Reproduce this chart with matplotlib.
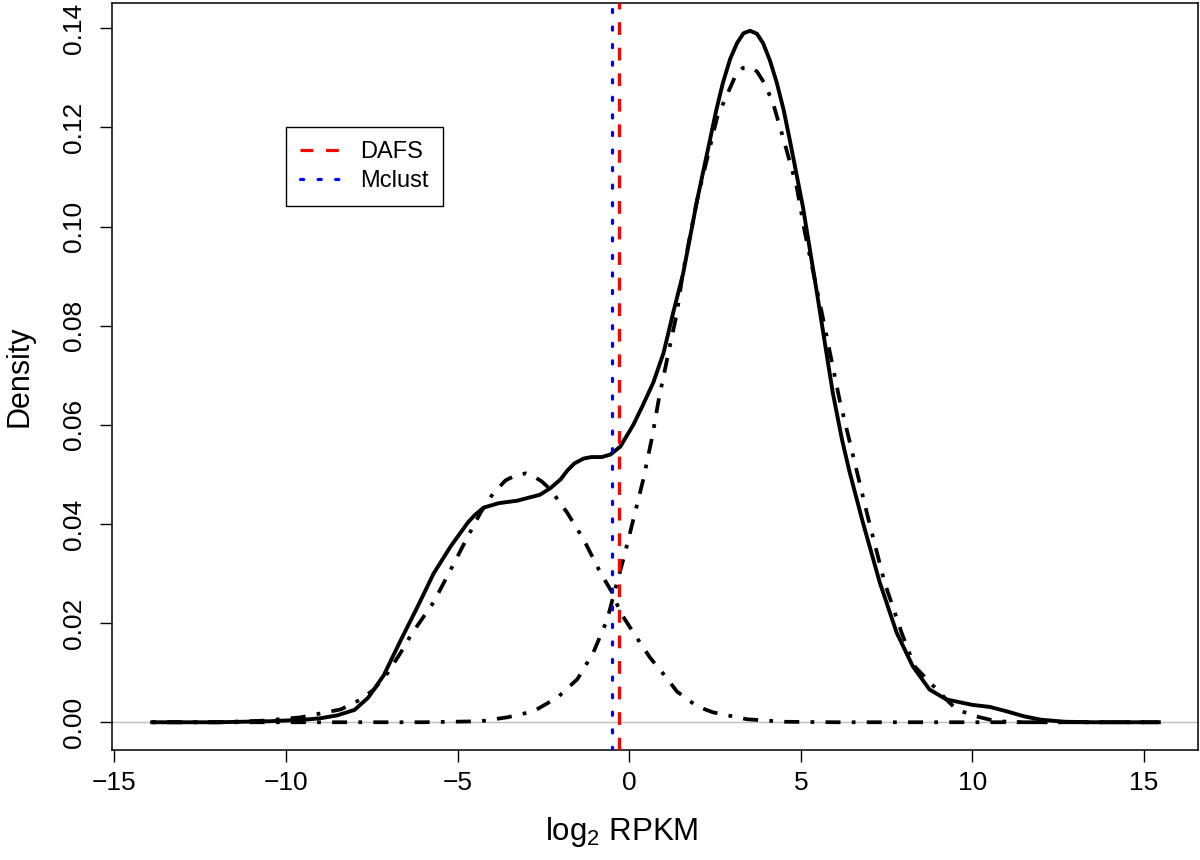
import matplotlib
matplotlib.use("Agg")
import matplotlib.pyplot as plt
from matplotlib.lines import Line2D

plt.rcParams['font.family'] = ['Liberation Sans', 'DejaVu Sans']
plt.rcParams['mathtext.fontset'] = 'custom'
plt.rcParams['mathtext.rm'] = 'Liberation Sans'

# overall density (solid)
dens_x = [-13.9, -12.0, -10.5, -9.5, -9.0, -8.5, -8.0, -7.6, -7.15, -6.66,
          -6.16, -5.7, -5.2, -4.7, -4.5, -4.24, -3.8, -3.26, -2.6, -2.3,
          -2.0, -1.8, -1.6, -1.33, -1.1, -0.8, -0.55, -0.26, 0.12, 0.4,
          0.7, 1.0, 1.28, 1.57, 1.98, 2.35, 2.54, 2.73, 2.94, 3.14,
          3.33, 3.52, 3.72, 3.9, 4.1, 4.3, 4.5, 4.68, 5.06, 5.47,
          5.7, 5.93, 6.2, 6.42, 6.8, 7.3, 7.79, 8.26, 8.75, 9.24,
          10.0, 10.5, 11.0, 11.5, 12.0, 12.7, 13.5, 15.43]
dens_y = [0.0, 0.0, 0.0002, 0.0005, 0.0008, 0.0014, 0.0025, 0.005, 0.0095, 0.0165,
          0.0234, 0.030, 0.0355, 0.0403, 0.0418, 0.0433, 0.0442, 0.0447, 0.0459, 0.0472,
          0.049, 0.0508, 0.0522, 0.0532, 0.0535, 0.0535, 0.054, 0.0556, 0.060, 0.064,
          0.0685, 0.0745, 0.0826, 0.0905, 0.1054, 0.1174, 0.1236, 0.129, 0.1338, 0.137,
          0.139, 0.1395, 0.1389, 0.137, 0.1335, 0.129, 0.1235, 0.1174, 0.104, 0.0866,
          0.0765, 0.0665, 0.057, 0.0505, 0.0405, 0.0282, 0.0181, 0.0113, 0.0066, 0.0046,
          0.0035, 0.0031, 0.0022, 0.0012, 0.0005, 0.0001, 0.0, 0.0]

# low-expression mixture component
low_x = [-13.9, -12.0, -10.7, -9.56, -8.4, -7.82, -7.44, -7.03, -6.57, -6.37,
         -5.7, -5.2, -4.7, -4.33, -3.95, -3.6, -3.26, -3.0, -2.79, -2.55,
         -2.3, -1.81, -1.33, -0.84, -0.5, -0.26, 0.12, 0.61, 1.05, 1.39,
         1.98, 2.44, 3.43, 4.5, 6.0, 15.43]
low_y = [0.0, 0.0, 0.0003, 0.001, 0.0026, 0.0046, 0.0066, 0.010, 0.015, 0.0175,
         0.0242, 0.0308, 0.0375, 0.0423, 0.0463, 0.0488, 0.050, 0.0502, 0.0496, 0.0486,
         0.047, 0.0423, 0.0369, 0.0302, 0.0262, 0.0222, 0.0181, 0.013, 0.0093, 0.0062,
         0.0032, 0.002, 0.0006, 0.0001, 0.0, 0.0]

# high-expression mixture component
high_x = [-13.9, -6.0, -4.33, -3.55, -2.79, -2.09, -1.51, -1.05, -0.64, -0.41,
          -0.15, 0.17, 0.41, 0.67, 0.87, 1.1, 1.39, 1.57, 1.98, 2.56,
          2.94, 3.1, 3.31, 3.5, 3.72, 3.95, 4.19, 4.53, 4.88, 5.12,
          5.6, 6.13, 6.95, 7.44, 7.94, 8.31, 9.24, 9.53, 10.1, 10.7,
          11.5, 15.43]
high_y = [0.0, 0.0, 0.0002, 0.001, 0.0022, 0.005, 0.0087, 0.014, 0.0207, 0.0268,
          0.0334, 0.0423, 0.049, 0.0576, 0.0655, 0.0731, 0.0826, 0.091, 0.1054, 0.122,
          0.128, 0.1305, 0.132, 0.1322, 0.1313, 0.1288, 0.1249, 0.1168, 0.108, 0.0987,
          0.083, 0.065, 0.0415, 0.0282, 0.018, 0.0113, 0.0046, 0.0026, 0.0012, 0.0002,
          0.0, 0.0]

# thresholds
dafs_cut = -0.29
mclust_cut = -0.49

x_ticks = [-15, -10, -5, 0, 5, 10, 15]
y_ticks = [0.00, 0.02, 0.04, 0.06, 0.08, 0.10, 0.12, 0.14]

fig = plt.figure(figsize=(12, 8.6), dpi=100)
ax = fig.add_axes([0.0933, 0.1279, 0.905, 0.8686])

ax.axhline(0, color='#bebebe', lw=1.0, zorder=1)
ax.plot(dens_x, dens_y, color='black', lw=2.8, solid_joinstyle='round', zorder=3)
for cx, cy in [(low_x, low_y), (high_x, high_y)]:
    ax.plot(cx, cy, color='black', lw=2.7, dashes=(1, 3, 4, 3), zorder=3)

ax.axvline(dafs_cut, color='#ff0000', lw=2.3, dashes=(4, 4), zorder=4)
ax.axvline(mclust_cut, color='#0000ff', lw=2.3, dashes=(1, 4.5),
           dash_capstyle='round', zorder=4)

ax.set_xlim(-15.07, 16.57)
ax.set_ylim(-0.0056, 0.1451)
ax.set_xticks(x_ticks)
ax.set_yticks(y_ticks)
ax.set_yticklabels([f"{v:.2f}" for v in y_ticks], rotation=90, va='center')
ax.tick_params(axis='both', labelsize=19, length=8.6, width=1)
ax.tick_params(axis='x', pad=6.5)
ax.tick_params(axis='y', pad=10)
for s in ax.spines.values():
    s.set_linewidth(1.1)

ax.set_xlabel(r'$\mathregular{log_2}$ RPKM', fontsize=22.5)
ax.set_ylabel('Density', fontsize=22)
ax.xaxis.set_label_coords(0.4696, -0.087)
ax.yaxis.set_label_coords(-0.071, 0.5)

handles = [Line2D([], [], color='#ff0000', lw=2.3, dashes=(4, 4)),
           Line2D([], [], color='#0000ff', lw=2.3, dashes=(1, 4.5), dash_capstyle='round')]
leg = ax.legend(handles, ['DAFS', 'Mclust'], loc='upper left',
                bbox_to_anchor=(0.1602, 0.834), fontsize=17, frameon=True,
                fancybox=False, edgecolor='black', framealpha=1,
                borderaxespad=0, borderpad=0.6, handlelength=2.0,
                handletextpad=0.55, labelspacing=0.3)
leg.get_frame().set_linewidth(1.0)

fig.savefig('out.png', dpi=100)
